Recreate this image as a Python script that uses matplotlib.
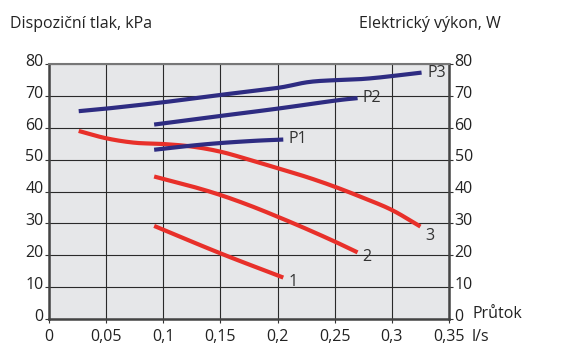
import numpy as np
import matplotlib
import matplotlib.pyplot as plt
import matplotlib.transforms as mtransforms
font = {'family': 'Open Sans', 'size': 11.5}
matplotlib.rc('font', **font)

# Pressure curves (kPa) vs flow (l/s)
x1 = [0.092, 0.15, 0.205]
y1 = [29.2, 20.6, 13.0]
x2 = [0.092, 0.125, 0.15, 0.175, 0.2, 0.225, 0.25, 0.27]
y2 = [44.7, 41.6, 38.9, 35.7, 32.1, 28.3, 24.3, 20.9]
x3 = [0.026, 0.05, 0.075, 0.1, 0.125, 0.15, 0.175, 0.2, 0.225, 0.25, 0.275, 0.3, 0.325]
y3 = [59.0, 56.7, 55.3, 54.9, 54.1, 52.5, 50.0, 47.3, 44.6, 41.5, 38.0, 34.2, 29.0]

# Electrical power curves (W)
xp1 = [0.092, 0.125, 0.15, 0.18, 0.205]
yp1 = [53.1, 54.4, 55.2, 55.9, 56.3]
xp2 = [0.092, 0.15, 0.2, 0.25, 0.27]
yp2 = [61.0, 63.7, 66.0, 68.5, 69.3]
xp3 = [0.026, 0.05, 0.1, 0.15, 0.2, 0.231, 0.278, 0.326]
yp3 = [65.2, 66.0, 68.0, 70.3, 72.5, 74.5, 75.4, 77.3]

xticks = [0, 0.05, 0.1, 0.15, 0.2, 0.25, 0.3, 0.35]
xlabels = ['0', '0,05', '0,1', '0,15', '0,2', '0,25', '0,3', '0,35']
yticks = [0, 10, 20, 30, 40, 50, 60, 70, 80]

red = '#e8302a'
blue = '#2e2c82'


def catmull(xs, ys, n=20):
    # smooth drawing path through the read points
    p = np.column_stack([xs, ys]).astype(float)
    p = np.vstack([2 * p[0] - p[1], p, 2 * p[-1] - p[-2]])
    out = []
    t = np.linspace(0, 1, n, endpoint=False)[:, None]
    for i in range(1, len(p) - 2):
        p0, p1, p2, p3 = p[i - 1], p[i], p[i + 1], p[i + 2]
        seg = 0.5 * ((2 * p1) + (-p0 + p2) * t + (2 * p0 - 5 * p1 + 4 * p2 - p3) * t ** 2
                     + (-p0 + 3 * p1 - 3 * p2 + p3) * t ** 3)
        out.append(seg)
    out.append(p[-2][None, :])
    out = np.vstack(out)
    return out[:, 0], out[:, 1]


fig = plt.figure(figsize=(5.73, 3.44), dpi=100)
ax = fig.add_axes([49 / 573, 25 / 344, 400 / 573, 255 / 344])
ax.set_facecolor('#e6e7e9')

for xs, ys in [(x1, y1), (x2, y2), (x3, y3)]:
    ax.plot(*catmull(xs, ys), color=red, lw=3, solid_capstyle='butt', zorder=3)
for xs, ys in [(xp1, yp1), (xp2, yp2), (xp3, yp3)]:
    ax.plot(*catmull(xs, ys), color=blue, lw=3, solid_capstyle='butt', zorder=4)

lab = dict(fontsize=11.5, color='#333333', va='center')
ax.text(0.331, 77.3, 'P3', **lab)
ax.text(0.274, 69.3, 'P2', **lab)
ax.text(0.21, 56.5, 'P1', **lab)
ax.text(0.329, 26.0, '3', **lab)
ax.text(0.274, 19.3, '2', **lab)
ax.text(0.21, 11.5, '1', **lab)

ax.set_xlim(0, 0.35)
ax.set_ylim(0, 80)
ax.set_xticks(xticks)
ax.set_xticklabels(xlabels)
ax.set_yticks(yticks)
ax.grid(True, color='#2a2a2a', lw=0.8)
ax.set_axisbelow(True)
ax.tick_params(direction='out', length=3, width=0.8, color='#333333',
               labelsize=11.5, labelcolor='#222222', pad=1,
               right=True, labelright=True)
ax.tick_params(axis='x', pad=4)
for s in ['left', 'right', 'bottom']:
    ax.spines[s].set_linewidth(1.8)
    ax.spines[s].set_color('#444444')
ax.spines['top'].set_linewidth(1.5)
ax.spines['top'].set_color('#777777')

# y labels sit a little above their gridlines in the original
up = mtransforms.ScaledTranslation(0, 3 / 72, fig.dpi_scale_trans)
for tick in ax.yaxis.get_major_ticks():
    tick.label1.set_transform(tick.label1.get_transform() + up)
    tick.label2.set_transform(tick.label2.get_transform() + up)

fig.text(10 / 573, 1 - 24 / 344, 'Dispoziční tlak, kPa', fontsize=11.5, color='#222222', va='center')
fig.text(501 / 573, 1 - 24 / 344, 'Elektrický výkon, W', fontsize=11.5, color='#222222', va='center', ha='right')
fig.text(472 / 573, 1 - 314 / 344, 'Průtok', fontsize=11.5, color='#222222', va='center')
fig.text(472 / 573, 1 - 337 / 344, 'l/s', fontsize=11.5, color='#222222', va='center')

plt.savefig('out.png')
